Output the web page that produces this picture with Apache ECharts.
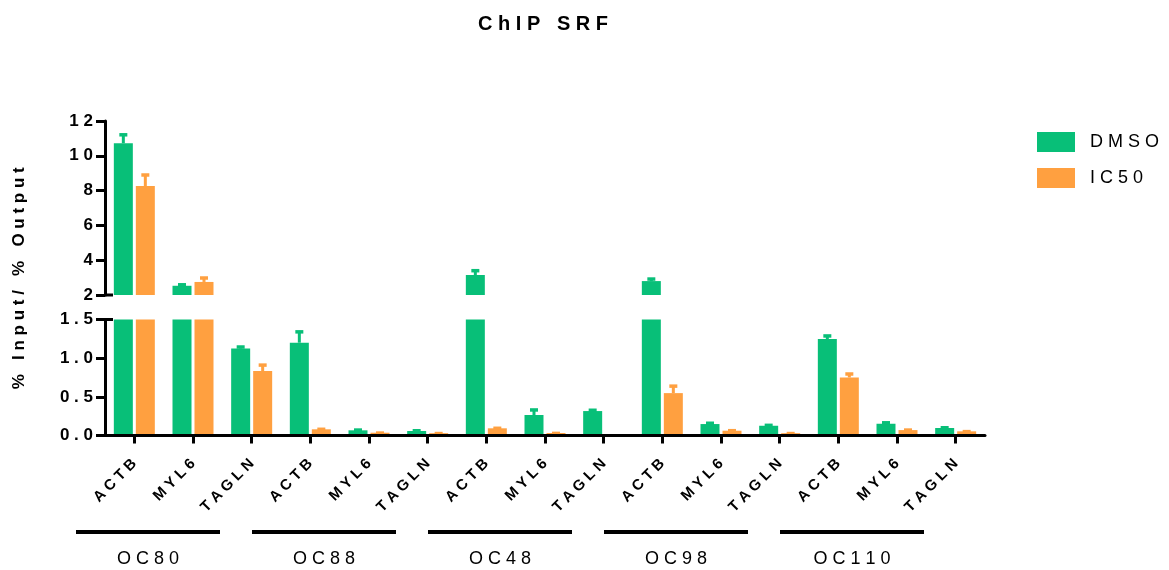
<!DOCTYPE html>
<html>
<head>
<meta charset="utf-8">
<title>ChIP SRF</title>
<script src="https://cdn.jsdelivr.net/npm/echarts@6/dist/echarts.min.js"></script>
<style>
  html, body { margin: 0; padding: 0; background: #ffffff; }
  #chart { width: 1169px; height: 570px; }
</style>
</head>
<body>
<div id="chart"></div>
<script>
// ---- data -------------------------------------------------------------
const genes = ['ACTB', 'MYL6', 'TAGLN', 'ACTB', 'MYL6', 'TAGLN', 'ACTB', 'MYL6', 'TAGLN',
               'ACTB', 'MYL6', 'TAGLN', 'ACTB', 'MYL6', 'TAGLN'];
const cellLines = ['OC80', 'OC88', 'OC48', 'OC98', 'OC110'];
const seriesNames = ['DMSO', 'IC50'];

const dmsoMean = [10.72, 2.53, 1.124, 1.20, 0.067, 0.058, 3.15, 0.265, 0.316, 2.80, 0.148, 0.126, 1.247, 0.152, 0.097];
const dmsoErr  = [0.53, 0.10, 0.03, 0.15, 0.013, 0.013, 0.29, 0.075, 0.02, 0.16, 0.02, 0.015, 0.05, 0.022, 0.013];
const ic50Mean = [8.26, 2.75, 0.834, 0.08, 0.036, 0.03, 0.093, 0.032, 0, 0.548, 0.062, 0.03, 0.75, 0.07, 0.054];
const ic50Err  = [0.68, 0.27, 0.086, 0.01, 0.005, 0.005, 0.01, 0.005, 0, 0.10, 0.01, 0.005, 0.055, 0.01, 0.006];

// broken value axis: upper segment and lower segment
const upperTicks = [2, 4, 6, 8, 10, 12];
const lowerTicks = [0, 0.5, 1.0, 1.5];

// ---- style ------------------------------------------------------------
const GREEN = '#08BF78';
const ORANGE = '#FFA040';
const FONT = '"Liberation Sans", Arial, Helvetica, sans-serif';
const BAR_W = 19;
const BAR_GAP_PX = 3;
const spaced = s => String(s).split('').join(' ');

const gridLeft = 105, gridWidth = 880;
const upperGrid = { left: gridLeft, width: gridWidth, top: 121, height: 174 };
const lowerGrid = { left: gridLeft, width: gridWidth, top: 319.5, height: 116 };

const axisLineStyle = { color: '#000', width: 3 };

function yAxisFor(gridIndex, ticks, fmt) {
  return {
    type: 'value',
    gridIndex,
    min: ticks[0],
    max: ticks[ticks.length - 1],
    interval: ticks[1] - ticks[0],
    splitLine: { show: false },
    axisLine: { show: true, lineStyle: axisLineStyle },
    axisTick: { show: true, length: 9, lineStyle: { width: 3, color: '#000' } },
    axisLabel: {
      margin: 12,
      color: '#000',
      fontFamily: FONT,
      fontWeight: 'bold',
      fontSize: 17,
      formatter: v => spaced(fmt(v))
    },
    z: 3
  };
}

// error-bar renderer: stem from mean to mean+err, with a flat cap
function errorRenderer(sign, lo, hi) {
  return function (params, api) {
    const idx = api.value(0);
    const mean = api.value(1);
    const err = api.value(2);
    if (mean < lo || mean > hi || err <= 0) return null;
    const dx = sign * (BAR_W + BAR_GAP_PX) / 2;
    const base = api.coord([idx, mean]);
    const top = api.coord([idx, mean + err]);
    const x = base[0] + dx;
    const color = api.visual('color');
    return {
      type: 'group',
      children: [
        { type: 'rect', shape: { x: x - 1.5, y: top[1], width: 3, height: base[1] - top[1] }, style: { fill: color } },
        { type: 'rect', shape: { x: x - 4, y: top[1] - 1, width: 8, height: 3.5 }, style: { fill: color } }
      ]
    };
  };
}

function barSeries(name, values, color, gridIdx) {
  return {
    name,
    type: 'bar',
    xAxisIndex: gridIdx,
    yAxisIndex: gridIdx,
    data: values,
    barWidth: BAR_W,
    barGap: (BAR_GAP_PX / BAR_W * 100) + '%',
    itemStyle: { color },
    clip: true,
    animation: false
  };
}

function errSeries(values, errs, color, gridIdx, sign, lo, hi) {
  return {
    type: 'custom',
    xAxisIndex: gridIdx,
    yAxisIndex: gridIdx,
    data: values.map((v, i) => [i, v, errs[i]]),
    encode: { x: 0, y: 1 },
    itemStyle: { color },
    renderItem: errorRenderer(sign, lo, hi),
    z: 3,
    animation: false
  };
}

const chart = echarts.init(document.getElementById('chart'), null, { renderer: 'canvas' });

const option = {
  backgroundColor: '#ffffff',
  animation: false,
  textStyle: { fontFamily: FONT },
  title: {
    text: 'C h I P   S R F',
    left: gridLeft + gridWidth / 2 - 7,
    textAlign: 'center',
    top: 9,
    textStyle: { fontFamily: FONT, fontWeight: 'bold', fontSize: 20, color: '#000' }
  },
  legend: {
    data: seriesNames,
    orient: 'vertical',
    left: 1037,
    top: 132,
    padding: 0,
    itemWidth: 38,
    itemHeight: 20,
    itemGap: 16,
    icon: 'rect',
    formatter: n => '  ' + spaced(n),
    textStyle: { fontFamily: FONT, fontSize: 18, color: '#000' }
  },
  grid: [upperGrid, lowerGrid],
  xAxis: [
    { type: 'category', gridIndex: 0, data: genes, show: false },
    {
      type: 'category',
      gridIndex: 1,
      data: genes,
      axisLine: { show: true, lineStyle: axisLineStyle },
      axisTick: { show: true, alignWithLabel: true, length: 8, lineStyle: { width: 3, color: '#000' } },
      axisLabel: {
        interval: 0,
        rotate: 45,
        margin: 26,
        color: '#000',
        fontFamily: FONT,
        fontWeight: 'bold',
        fontSize: 15,
        formatter: v => spaced(v)
      },
      z: 3
    }
  ],
  yAxis: [
    yAxisFor(0, upperTicks, v => String(v)),
    yAxisFor(1, lowerTicks, v => v.toFixed(1))
  ],
  series: [
    barSeries('DMSO', dmsoMean, GREEN, 0),
    barSeries('IC50', ic50Mean, ORANGE, 0),
    barSeries('DMSO', dmsoMean, GREEN, 1),
    barSeries('IC50', ic50Mean, ORANGE, 1),
    errSeries(dmsoMean, dmsoErr, GREEN, 0, -1, upperTicks[0], Infinity),
    errSeries(ic50Mean, ic50Err, ORANGE, 0, 1, upperTicks[0], Infinity),
    errSeries(dmsoMean, dmsoErr, GREEN, 1, -1, -Infinity, lowerTicks[lowerTicks.length - 1]),
    errSeries(ic50Mean, ic50Err, ORANGE, 1, 1, -Infinity, lowerTicks[lowerTicks.length - 1])
  ]
};

chart.setOption(option);

// ---- annotations: axis title, break marks, cell-line group bars ----------
const graphics = [];

graphics.push({
  type: 'text',
  x: 19,
  y: (upperGrid.top + lowerGrid.top + lowerGrid.height) / 2,
  rotation: Math.PI / 2,
  style: {
    text: '%   I n p u t /   %   O u t p u t',
    fontFamily: FONT, fontWeight: 'bold', fontSize: 17, fill: '#000',
    align: 'center', verticalAlign: 'middle'
  }
});

// short marks on the right of the axis where the value axis is broken
const yBreakUpper = chart.convertToPixel({ yAxisIndex: 0 }, upperTicks[0]);
const yBreakLower = chart.convertToPixel({ yAxisIndex: 1 }, lowerTicks[lowerTicks.length - 1]);
[yBreakUpper, yBreakLower].forEach(y => {
  graphics.push({
    type: 'line',
    shape: { x1: gridLeft, y1: y, x2: gridLeft + 8, y2: y },
    style: { stroke: '#000', lineWidth: 3 },
    z: 10
  });
});

// one bar + label under each cell line's three genes
const perGroup = genes.length / cellLines.length;
cellLines.forEach((name, g) => {
  const mid = g * perGroup + (perGroup - 1) / 2;
  const cx = chart.convertToPixel({ xAxisIndex: 1 }, mid) - 45;
  graphics.push({
    type: 'rect',
    shape: { x: cx - 72, y: 530, width: 144, height: 4 },
    style: { fill: '#000' }
  });
  graphics.push({
    type: 'text',
    x: cx,
    y: 559,
    style: {
      text: spaced(name),
      fontFamily: FONT, fontSize: 18, fill: '#000',
      align: 'center', verticalAlign: 'middle'
    }
  });
});

chart.setOption({ graphic: graphics });
</script>
</body>
</html>
